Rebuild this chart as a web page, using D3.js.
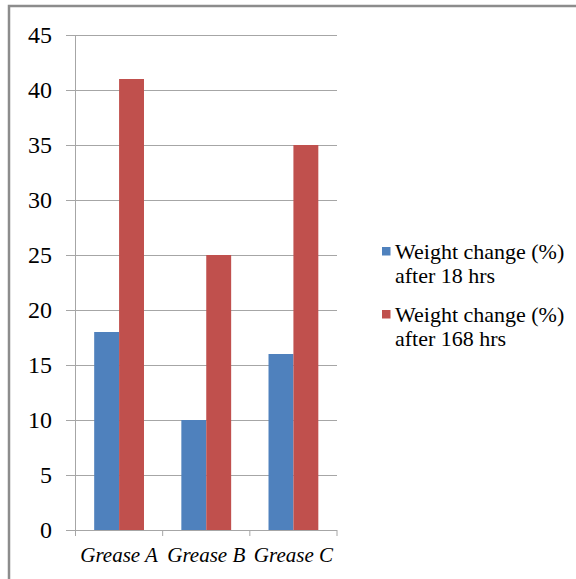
<!DOCTYPE html>
<html><head><meta charset="utf-8">
<script src="https://cdn.jsdelivr.net/npm/d3@7"></script>
<style>body{margin:0;background:#fff}svg{display:block}
text{font-family:"Liberation Serif","Times New Roman",Times,serif}</style>
</head><body>
<script>
const categories = ["Grease A", "Grease B", "Grease C"];
const seriesNames = ["Weight change (%) after 18 hrs", "Weight change (%) after 168 hrs"];
const legendLines = [["Weight change (%)", "after 18 hrs"], ["Weight change (%)", "after 168 hrs"]];
const after18 = [18, 10, 16];
const after168 = [41, 25, 35];
const yTicks = [0, 5, 10, 15, 20, 25, 30, 35, 40, 45];
const colors = ["#4F81BD", "#C0504D"];

const W = 576, H = 579;
const svg = d3.select("body").append("svg").attr("width", W).attr("height", H);
svg.append("path").attr("d", "M9,579 V6 H576").attr("fill", "none").attr("stroke", "#8c8c8c").attr("stroke-width", 2.5);

const x0 = 75.5, x1 = 337;
const y = d3.scaleLinear().domain([0, 45]).range([530, 35]);
const x = d3.scaleBand().domain(categories).range([x0, x1]).paddingInner(0).paddingOuter(0);
const xs = d3.scaleBand().domain([0, 1]).range([0, x.bandwidth()]).paddingInner(0).paddingOuter(0.75);

svg.append("g").selectAll("line").data(yTicks).join("line")
  .attr("x1", 66).attr("x2", x1).attr("y1", d => Math.round(y(d)) + 0.5).attr("y2", d => Math.round(y(d)) + 0.5)
  .attr("stroke", "#a6a6a6").attr("stroke-width", 1);
svg.append("line").attr("x1", x0).attr("x2", x0).attr("y1", y(45)).attr("y2", y(0) + 0.5).attr("stroke", "#a6a6a6");
svg.append("g").selectAll("text").data(yTicks).join("text")
  .attr("x", 52).attr("y", d => y(d)).attr("dy", "0.35em").attr("text-anchor", "end")
  .attr("font-size", 24).attr("fill", "#000").text(d => d);

const data = [after18, after168];
categories.forEach((c, i) => {
  data.forEach((s, j) => {
    svg.append("rect").attr("x", x(c) + xs(j)).attr("width", xs.bandwidth())
      .attr("y", y(s[i])).attr("height", y(0) - y(s[i])).attr("fill", colors[j]);
  });
});
svg.append("line").attr("x1", x0).attr("x2", x1).attr("y1", Math.round(y(0)) + 0.5).attr("y2", Math.round(y(0)) + 0.5).attr("stroke", "#a6a6a6");
const ticksX = [x0, ...categories.map(c => x(c) + x.bandwidth())];
svg.append("g").selectAll("line").data(ticksX).join("line")
  .attr("x1", d => d).attr("x2", d => d).attr("y1", y(0)).attr("y2", y(0) + 6).attr("stroke", "#a6a6a6");
svg.append("g").selectAll("text").data(categories).join("text")
  .attr("x", d => x(d) + x.bandwidth() / 2).attr("y", 562).attr("text-anchor", "middle")
  .attr("font-style", "italic").attr("font-size", 21).attr("fill", "#000").text(d => d);

const lg = svg.append("g");
const ly = [259, 322];
legendLines.forEach((lines, j) => {
  lg.append("rect").attr("x", 382).attr("y", ly[j] - 12).attr("width", 8.5).attr("height", 8.5).attr("fill", colors[j]);
  lines.forEach((t, k) => {
    lg.append("text").attr("x", 395).attr("y", ly[j] + k * 23.5)
      .attr("font-size", 22).attr("fill", "#000").text(t);
  });
});
</script>
</body></html>
